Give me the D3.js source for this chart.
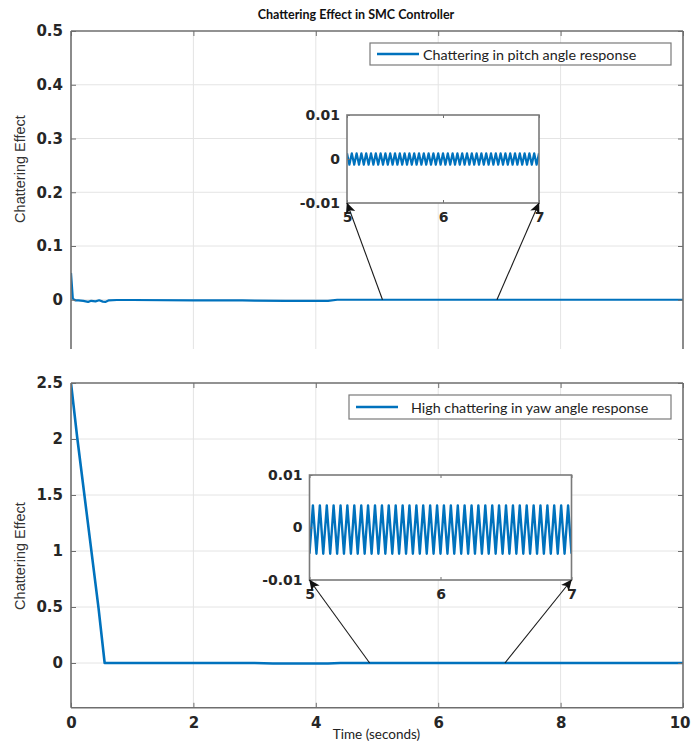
<!DOCTYPE html>
<html><head><meta charset="utf-8">
<script src="https://cdn.jsdelivr.net/npm/d3@7"></script>
<style>body{margin:0;background:#fff}svg{display:block}</style>
</head><body><svg id="c" width="691" height="745"></svg>
<script>
// ---------------- data ----------------
const chartTitle = "Chattering Effect in SMC Controller";
const yLabel = "Chattering Effect";
const xLabel = "Time (seconds)";
const xTicks = [0, 2, 4, 6, 8, 10];
const pitchTicks = [0, 0.1, 0.2, 0.3, 0.4, 0.5];
const pitchLimits = [-0.1, 0.5];
const yawTicks = [0, 0.5, 1, 1.5, 2, 2.5];
const yawLimits = [-0.4, 2.5];
const insetXTicks = [5, 6, 7];
const insetYTicks = [-0.01, 0, 0.01];
const legendLabels = ["Chattering in pitch angle response", "High chattering in yaw angle response"];

const pitchTime  = [0, 0.03, 0.07, 0.12, 0.2, 0.28, 0.33, 0.4, 0.46, 0.52, 0.56, 0.62, 0.75, 1.0, 2.0, 2.8, 3.0, 3.5, 4.2, 4.35, 5, 6, 7, 8, 9, 10];
const pitchValue = [0.05, 0.002, -0.001, -0.001, -0.002, -0.004, -0.002, -0.003, -0.001, -0.0035, -0.004, -0.001, -0.0005, -0.0005, -0.001, -0.001, -0.0015, -0.002, -0.002, 0, 0, 0, 0, 0, 0, 0];

const yawTime  = [0, 0.1, 0.45, 0.55, 0.6, 1, 2, 3, 3.3, 4.2, 4.4, 5, 6, 7, 8, 9, 10];
const yawValue = [2.5, 2.02, 0.49, 0.0, 0.0, 0.0, 0.0, 0.0, -0.004, -0.004, 0.0, 0.0, 0.0, 0.0, 0.0, 0.0, 0.0];

const pitchZoomTime = [
  5, 5.025, 5.05, 5.075, 5.1, 5.125, 5.15, 5.175, 5.2, 5.225, 5.25, 5.275, 5.3, 5.325, 5.35, 5.375, 5.4, 5.425, 5.45, 5.475,
  5.5, 5.525, 5.55, 5.575, 5.6, 5.625, 5.65, 5.675, 5.7, 5.725, 5.75, 5.775, 5.8, 5.825, 5.85, 5.875, 5.9, 5.925, 5.95, 5.975,
  6, 6.025, 6.05, 6.075, 6.1, 6.125, 6.15, 6.175, 6.2, 6.225, 6.25, 6.275, 6.3, 6.325, 6.35, 6.375, 6.4, 6.425, 6.45, 6.475,
  6.5, 6.525, 6.55, 6.575, 6.6, 6.625, 6.65, 6.675, 6.7, 6.725, 6.75, 6.775, 6.8, 6.825, 6.85, 6.875, 6.9, 6.925, 6.95, 6.975, 7];
const pitchZoomValue = [
  0.0013, -0.0013, 0.0013, -0.0013, 0.0013, -0.0013, 0.0013, -0.0013, 0.0013, -0.0013, 0.0013, -0.0013, 0.0013, -0.0013, 0.0013, -0.0013, 0.0013, -0.0013, 0.0013, -0.0013,
  0.0013, -0.0013, 0.0013, -0.0013, 0.0013, -0.0013, 0.0013, -0.0013, 0.0013, -0.0013, 0.0013, -0.0013, 0.0013, -0.0013, 0.0013, -0.0013, 0.0013, -0.0013, 0.0013, -0.0013,
  0.0013, -0.0013, 0.0013, -0.0013, 0.0013, -0.0013, 0.0013, -0.0013, 0.0013, -0.0013, 0.0013, -0.0013, 0.0013, -0.0013, 0.0013, -0.0013, 0.0013, -0.0013, 0.0013, -0.0013,
  0.0013, -0.0013, 0.0013, -0.0013, 0.0013, -0.0013, 0.0013, -0.0013, 0.0013, -0.0013, 0.0013, -0.0013, 0.0013, -0.0013, 0.0013, -0.0013, 0.0013, -0.0013, 0.0013, -0.0013, 0.0013];

const yawZoomTime = [
  5, 5.026, 5.053, 5.079, 5.105, 5.132, 5.158, 5.184, 5.211, 5.237, 5.263, 5.289, 5.316, 5.342, 5.368, 5.395, 5.421, 5.447, 5.474,
  5.5, 5.526, 5.553, 5.579, 5.605, 5.632, 5.658, 5.684, 5.711, 5.737, 5.763, 5.789, 5.816, 5.842, 5.868, 5.895, 5.921, 5.947, 5.974,
  6, 6.026, 6.053, 6.079, 6.105, 6.132, 6.158, 6.184, 6.211, 6.237, 6.263, 6.289, 6.316, 6.342, 6.368, 6.395, 6.421, 6.447, 6.474,
  6.5, 6.526, 6.553, 6.579, 6.605, 6.632, 6.658, 6.684, 6.711, 6.737, 6.763, 6.789, 6.816, 6.842, 6.868, 6.895, 6.921, 6.947, 6.974, 7];
const yawZoomValue = [
  -0.005, 0.0042, -0.005, 0.0042, -0.005, 0.0042, -0.005, 0.0042, -0.005, 0.0042, -0.005, 0.0042, -0.005, 0.0042, -0.005, 0.0042, -0.005, 0.0042, -0.005,
  0.0042, -0.005, 0.0042, -0.005, 0.0042, -0.005, 0.0042, -0.005, 0.0042, -0.005, 0.0042, -0.005, 0.0042, -0.005, 0.0042, -0.005, 0.0042, -0.005, 0.0042,
  -0.005, 0.0042, -0.005, 0.0042, -0.005, 0.0042, -0.005, 0.0042, -0.005, 0.0042, -0.005, 0.0042, -0.005, 0.0042, -0.005, 0.0042, -0.005, 0.0042, -0.005,
  0.0042, -0.005, 0.0042, -0.005, 0.0042, -0.005, 0.0042, -0.005, 0.0042, -0.005, 0.0042, -0.005, 0.0042, -0.005, 0.0042, -0.005, 0.0042, -0.005, 0.0042, -0.005];

const pitchArrowTimes = [5.09, 6.96];
const yawArrowTimes = [4.88, 7.09];

// ---------------- drawing ----------------
const LINE = "#0072BD";
const AXIS = "#6e6e6e";
const GRID = "#e4e4e4";
const TICKTXT = "#262626";
const NUMFONT = "DejaVu Sans";

const svg = d3.select("#c");
const defs = svg.append("defs");
defs.append("marker").attr("id", "ah").attr("viewBox", "0 0 10 10")
  .attr("refX", 9.5).attr("refY", 5).attr("markerWidth", 11).attr("markerHeight", 11)
  .attr("markerUnits", "userSpaceOnUse").attr("orient", "auto")
  .append("path").attr("d", "M0,0.5 L10,5 L0,9.5 L2.5,5 Z").attr("fill", "#111");

const fmt = d => String(d);

function mainPanel(cfg) {
  const { x, y, ticks, top, bottom, clipId, bottomAxis } = cfg;
  const [L, R] = x.range();
  const g = svg.append("g");
  defs.append("clipPath").attr("id", clipId).append("rect")
    .attr("x", L).attr("y", top).attr("width", R - L).attr("height", bottom - top);
  const inner = g.append("g").attr("clip-path", `url(#${clipId})`);
  inner.selectAll(".gx").data(xTicks.filter(d => d > xTicks[0] && d < xTicks[xTicks.length - 1]))
    .join("line").attr("x1", d => x(d)).attr("x2", d => x(d)).attr("y1", top).attr("y2", bottom)
    .attr("stroke", GRID).attr("stroke-width", 1);
  inner.selectAll(".gy").data(ticks.filter(d => d < ticks[ticks.length - 1]))
    .join("line").attr("y1", d => y(d)).attr("y2", d => y(d)).attr("x1", L).attr("x2", R)
    .attr("stroke", GRID).attr("stroke-width", 1);
  const ay = g.append("g").attr("transform", `translate(${L},0)`)
    .call(d3.axisLeft(y).tickValues(ticks).tickFormat(fmt).tickSizeInner(-5).tickSizeOuter(0).tickPadding(8));
  ay.select(".domain").remove();
  ay.selectAll("line").attr("stroke", AXIS);
  ay.selectAll("text").attr("font-family", NUMFONT).attr("font-weight", "bold").attr("font-size", 15).attr("fill", TICKTXT);
  const ar = g.append("g").attr("transform", `translate(${R},0)`)
    .call(d3.axisRight(y).tickValues(ticks).tickFormat("").tickSizeInner(-5).tickSizeOuter(0));
  ar.select(".domain").remove();
  ar.selectAll("line").attr("stroke", AXIS);
  const at = g.append("g").attr("transform", `translate(0,${top})`)
    .call(d3.axisTop(x).tickValues(xTicks).tickFormat("").tickSizeInner(-5).tickSizeOuter(0));
  at.select(".domain").remove();
  at.selectAll("line").attr("stroke", AXIS);
  if (bottomAxis) {
    const ab = g.append("g").attr("transform", `translate(0,${bottom})`)
      .call(d3.axisBottom(x).tickValues(xTicks).tickFormat(fmt).tickSizeInner(-5).tickSizeOuter(0).tickPadding(10));
    ab.select(".domain").remove();
    ab.selectAll("line").attr("stroke", AXIS);
    ab.selectAll("text").attr("font-family", NUMFONT).attr("font-weight", "bold").attr("font-size", 15).attr("fill", TICKTXT);
    // keep the last label inside the page, as in the reference where it touches the edge
    ab.selectAll("text").filter(d => d === xTicks[xTicks.length - 1])
      .attr("text-anchor", "end").attr("x", 690 - x(xTicks[xTicks.length - 1]));
  }
  const box = g.append("g").attr("fill", "none").attr("stroke", AXIS).attr("stroke-width", 1.6);
  box.append("line").attr("x1", L).attr("x2", L).attr("y1", top).attr("y2", bottom);
  box.append("line").attr("x1", R).attr("x2", R).attr("y1", top).attr("y2", bottom);
  box.append("line").attr("x1", L).attr("x2", R).attr("y1", top).attr("y2", top);
  if (bottomAxis) box.append("line").attr("x1", L).attr("x2", R).attr("y1", bottom).attr("y2", bottom);
  return { g, inner };
}

function drawSeries(layer, x, y, ts, vs, w) {
  layer.append("path").datum(ts.map((t, i) => [t, vs[i]]))
    .attr("d", d3.line().x(d => x(d[0])).y(d => y(d[1])))
    .attr("fill", "none").attr("stroke", LINE).attr("stroke-width", w).attr("stroke-linejoin", "round");
}

function inset(cfg) {
  const { x, y, ts, vs, labelFont, lw } = cfg;
  const [L, R] = x.range();
  const [B, T] = y.range();
  const g = svg.append("g");
  g.append("rect").attr("x", L).attr("y", T).attr("width", R - L).attr("height", B - T).attr("fill", "#fff");
  const clip = "ic" + Math.round(L);
  defs.append("clipPath").attr("id", clip).append("rect").attr("x", L).attr("y", T).attr("width", R - L).attr("height", B - T);
  const s = g.append("g").attr("clip-path", `url(#${clip})`);
  drawSeries(s, x, y, ts, vs, lw);
  const ay = g.append("g").attr("transform", `translate(${L},0)`)
    .call(d3.axisLeft(y).tickValues(insetYTicks).tickFormat(fmt).tickSizeInner(-3).tickSizeOuter(0).tickPadding(7));
  ay.select(".domain").remove();
  ay.selectAll("line").attr("stroke", AXIS);
  ay.selectAll("text").attr("font-family", NUMFONT).attr("font-weight", "bold").attr("font-size", labelFont).attr("fill", TICKTXT);
  const ax = g.append("g").attr("transform", `translate(0,${B})`)
    .call(d3.axisBottom(x).tickValues(insetXTicks).tickFormat(fmt).tickSizeInner(-3).tickSizeOuter(0).tickPadding(9));
  ax.select(".domain").remove();
  ax.selectAll("line").attr("stroke", AXIS);
  ax.selectAll("text").attr("font-family", NUMFONT).attr("font-weight", "bold").attr("font-size", labelFont).attr("fill", TICKTXT);
  const axt = g.append("g").attr("transform", `translate(0,${T})`)
    .call(d3.axisTop(x).tickValues(insetXTicks).tickFormat("").tickSizeInner(-3).tickSizeOuter(0));
  axt.select(".domain").remove();
  axt.selectAll("line").attr("stroke", AXIS);
  g.append("rect").attr("x", L).attr("y", T).attr("width", R - L).attr("height", B - T)
    .attr("fill", "none").attr("stroke", "#7a7a7a").attr("stroke-width", 1.6);
  return g;
}

function arrows(xMain, yMain, times, xIn, yIn) {
  const ends = [[xIn(insetXTicks[0]), yIn(insetYTicks[0])], [xIn(insetXTicks[2]), yIn(insetYTicks[0])]];
  svg.append("g").selectAll("line").data(times).join("line")
    .attr("x1", d => xMain(d)).attr("y1", yMain(0))
    .attr("x2", (d, i) => ends[i][0]).attr("y2", (d, i) => ends[i][1])
    .attr("stroke", "#1a1a1a").attr("stroke-width", 1.1).attr("marker-end", "url(#ah)");
}

// scales
const x = d3.scaleLinear().domain(d3.extent(xTicks)).range([71, 683]);
const yP = d3.scaleLinear().domain(pitchLimits).range([353.5, 31]);
const yY = d3.scaleLinear().domain(yawLimits).range([707.8, 383]);

// title
svg.append("text").attr("x", 356).attr("y", 19).attr("text-anchor", "middle")
  .attr("font-family", "Lato").attr("font-weight", "bold").attr("font-size", 12.5).attr("fill", "#111")
  .text(chartTitle);

// top panel
const p1 = mainPanel({ x, y: yP, ticks: pitchTicks, top: 31, bottom: 349, clipId: "cp1", bottomAxis: false });
drawSeries(p1.inner, x, yP, pitchTime, pitchValue, 2.2);
// bottom panel
const p2 = mainPanel({ x, y: yY, ticks: yawTicks, top: 383, bottom: 707.8, clipId: "cp2", bottomAxis: true });
drawSeries(p2.inner, x, yY, yawTime, yawValue, 2.6);

// y labels
[[169, 20], [556, 20]].forEach(([cy, cx]) => {
  svg.append("text").attr("transform", `translate(${cx},${cy}) rotate(-90)`)
    .attr("text-anchor", "middle").attr("dominant-baseline", "central")
    .attr("font-family", "Liberation Sans").attr("font-size", 14.5).attr("fill", "#333").text(yLabel);
});
// x label
svg.append("text").attr("x", 376.5).attr("y", 739).attr("text-anchor", "middle")
  .attr("font-family", "Lato").attr("font-size", 13.5).attr("fill", "#222").text(xLabel);

// legends
function drawLegend(box, label, lineX, textX, fs) {
  const [bx, by, bw, bh] = box;
  const g = svg.append("g");
  g.append("rect").attr("x", bx).attr("y", by).attr("width", bw).attr("height", bh)
    .attr("fill", "#fff").attr("stroke", "#7a7a7a").attr("stroke-width", 1.2);
  g.append("line").attr("x1", lineX[0]).attr("x2", lineX[1]).attr("y1", by + bh / 2).attr("y2", by + bh / 2)
    .attr("stroke", LINE).attr("stroke-width", 2.4);
  g.append("text").attr("x", textX).attr("y", by + bh / 2).attr("dominant-baseline", "central")
    .attr("font-family", "Lato").attr("font-size", fs).attr("fill", "#222").text(label);
}
drawLegend([370, 43, 301, 22], legendLabels[0], [377, 419], 423, 14.3);
drawLegend([349, 395, 322, 24], legendLabels[1], [356, 398], 411, 14.3);

// insets
const xI1 = d3.scaleLinear().domain(d3.extent(insetXTicks)).range([347, 539]);
const yI1 = d3.scaleLinear().domain(d3.extent(insetYTicks)).range([203, 115]);
inset({ x: xI1, y: yI1, ts: pitchZoomTime, vs: pitchZoomValue, labelFont: 14, lw: 2.2 });
arrows(x, yP, pitchArrowTimes, xI1, yI1);

const xI2 = d3.scaleLinear().domain(d3.extent(insetXTicks)).range([309.5, 571.5]);
const yI2 = d3.scaleLinear().domain(d3.extent(insetYTicks)).range([580, 475]);
inset({ x: xI2, y: yI2, ts: yawZoomTime, vs: yawZoomValue, labelFont: 14, lw: 2.4 });
arrows(x, yY, yawArrowTimes, xI2, yI2);
</script>
</body></html>
